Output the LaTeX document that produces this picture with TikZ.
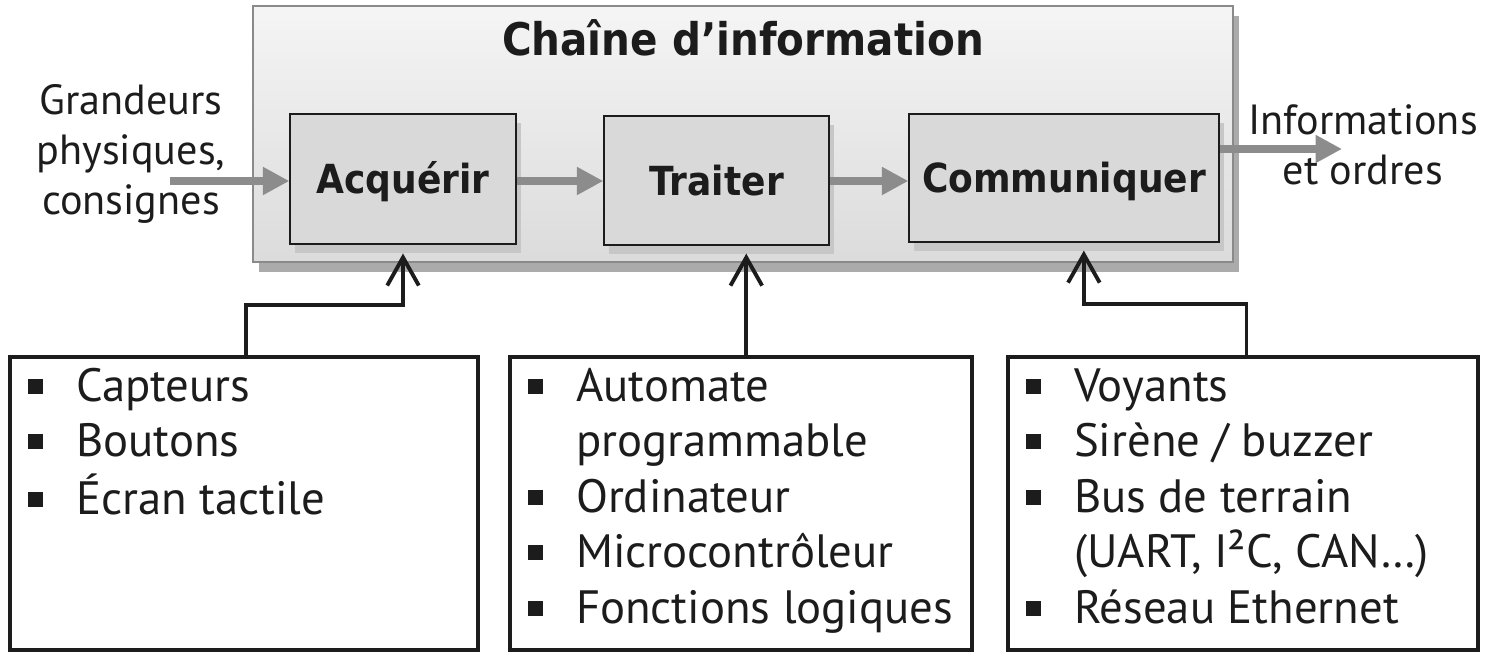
\documentclass[tikz,border=0pt]{standalone}
\usepackage{fontspec}
\setmainfont{PT Sans}
\newfontfamily\grasfont{DejaVu Sans}[FakeStretch=0.9]
\usetikzlibrary{arrows.meta, positioning, shadows}
\definecolor{grisfleche}{RGB}{140,140,140}
\definecolor{grisfond}{RGB}{217,217,217}
\definecolor{grisbord}{RGB}{138,138,138}
\definecolor{encre}{RGB}{28,28,28}
\newcommand{\puce}{\raisebox{4.3pt}{\rule{8.5pt}{8.5pt}}}

\begin{document}
\begin{tikzpicture}[
  x=0.02cm, y=-0.02cm,
  chaine/.style={rectangle, draw=grisbord, line width=0.8pt, top color=black!4, bottom color=black!14,
                 drop shadow={shadow xshift=3.5pt, shadow yshift=-5.5pt, fill=black!33, opacity=1}},
  bloc/.style={rectangle, draw=encre, line width=0.8pt, fill=grisfond, text=encre,
               text height=17pt, text depth=0pt,
               font=\grasfont\bfseries\fontsize{22.8}{26}\selectfont,
               drop shadow={shadow xshift=2.8pt, shadow yshift=-5pt, fill=black!22, opacity=1}},
  cadre/.style={rectangle, draw=encre, line width=2.2pt, inner sep=0pt, minimum height=5.86cm},
  liste/.style={anchor=north west, inner sep=0pt, text=encre, font=\fontsize{26.6}{31.6}\selectfont},
  texte/.style={align=center, inner sep=0pt, text=encre, font=\fontsize{24}{28.5}\selectfont},
  flux/.style={-{Triangle[length=15pt, width=15pt]}, line width=4pt, grisfleche},
  lien/.style={-{Straight Barb[length=16pt, width=18pt]}, line width=2.2pt, encre}
]
\useasboundingbox (0,0) rectangle (1498,662);

% chaine d'information
\node[chaine, minimum width=19.6cm, minimum height=5.12cm] (chaine) at (743,134) {};
\node[text=encre, font=\grasfont\bfseries\fontsize{25.6}{30}\selectfont] (titre) at (743,38) {Chaîne d’information};

\node[bloc, minimum width=4.52cm, minimum height=2.6cm] (acq) at (403,179) {Acquérir};
\node[bloc, minimum width=4.5cm, minimum height=2.58cm] (trt) at (716.5,180.5) {Traiter};
\node[bloc, minimum width=6.2cm, minimum height=2.56cm] (com) at (1064,178) {Communiquer};

\node[texte] (grandeurs) at (131,154) {Grandeurs\\physiques,\\consignes};
\node[texte] (infos) at (1363,145) {Informations\\et ordres};

\coordinate (entree) at (170,181);
\coordinate (sortie) at (1342,149);
\draw[flux] (entree) -- (entree -| acq.west);
\draw[flux] (acq.east |- entree) -- (trt.west |- entree);
\draw[flux] (trt.east |- entree) -- (com.west |- entree);
\draw[flux] (com.east |- sortie) -- (sortie);

% composants
\node[cadre, minimum width=9.36cm] (capt) at (244,503.5) {};
\node[cadre, minimum width=9.24cm] (calc) at (741,503.5) {};
\node[cadre, minimum width=9.4cm] (comm) at (1243,503.5) {};

\node[liste] (lcapt) at ([xshift=11.3pt, yshift=-4pt]capt.north west) {%
  \begin{tabular}{@{}p{27.2pt}@{}l@{}}
  \puce & Capteurs\\
  \puce & Boutons\\
  \puce & Écran tactile
  \end{tabular}};
\node[liste] (lcalc) at ([xshift=11.3pt, yshift=-4pt]calc.north west) {%
  \begin{tabular}{@{}p{27.2pt}@{}l@{}}
  \puce & Automate\\
        & programmable\\
  \puce & Ordinateur\\
  \puce & Microcontrôleur\\
  \puce & Fonctions logiques
  \end{tabular}};
\node[liste] (lcomm) at ([xshift=11.3pt, yshift=-4pt]comm.north west) {%
  \begin{tabular}{@{}p{27.2pt}@{}l@{}}
  \puce & Voyants\\
  \puce & Sirène / buzzer\\
  \puce & Bus de terrain\\
        & (UART, I²C, CAN…)\\
  \puce & Réseau Ethernet
  \end{tabular}};

\coordinate (pointe) at ([yshift=-4.5pt]trt.south);
\draw[lien] ([xshift=1pt]capt.north) -- ++(0,-50) -| ([yshift=-5pt]acq.south);
\draw[lien] ([xshift=3pt]calc.north) -- ([xshift=3pt]calc.north |- pointe);
\draw[lien] ([xshift=2pt]comm.north) -- ++(0,-51) -| ([xshift=11.3pt, yshift=-4.5pt]com.south);
\end{tikzpicture}
\end{document}
